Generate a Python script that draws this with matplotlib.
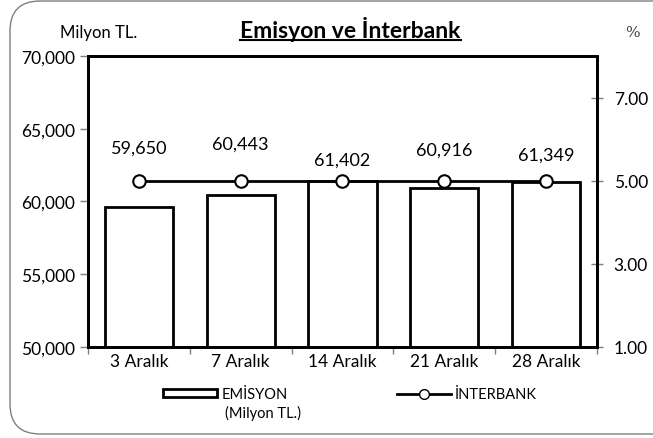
import matplotlib
matplotlib.use("Agg")
import matplotlib.pyplot as plt
from matplotlib.patches import FancyBboxPatch, Patch
from matplotlib.lines import Line2D
from matplotlib.transforms import IdentityTransform
from matplotlib.ticker import FuncFormatter, FormatStrFormatter

dates = ["3 Aralık", "7 Aralık", "14 Aralık", "21 Aralık", "28 Aralık"]
emisyon = [59650, 60443, 61402, 60916, 61349]
interbank = [5.0, 5.0, 5.0, 5.0, 5.0]
label_offsets = [37, 31, 10, 22, 14]  # points above bar tops, as placed in the original

plt.rcParams['font.family'] = ['Lato', 'DejaVu Sans']

fig = plt.figure(figsize=(6.53, 4.39), dpi=100)
# rounded frame (pixel units), right side runs off the image as in the original
border = FancyBboxPatch((10, 4), 680, 433, boxstyle="round,pad=0,rounding_size=30",
                        transform=IdentityTransform(), fill=False, edgecolor="#7f7f7f", linewidth=1.0)
fig.patches.append(border)

ax = fig.add_axes([0.1348, 0.2073, 0.7794, 0.6629])
x = list(range(len(dates)))
ax.bar(x, emisyon, width=0.67, color="white", edgecolor="black", linewidth=2, zorder=2)
ax.set_ylim(50000, 70000)
ax.set_xlim(-0.5, 4.5)
ax.set_yticks([50000, 55000, 60000, 65000, 70000])
ax.yaxis.set_major_formatter(FuncFormatter(lambda v, p: "{:,.0f}".format(v)))
ax.set_xticks(x)
ax.set_xticklabels(dates)
ax.set_xticks([i - 0.5 for i in range(6)], minor=True)
ax.tick_params(axis="x", which="major", length=0, labelsize=12.5, pad=4)
ax.tick_params(axis="x", which="minor", length=5, width=1, color="#7f7f7f")
ax.tick_params(axis="y", length=6, width=1, color="#7f7f7f", labelsize=12.5)
for s in ax.spines.values():
    s.set_linewidth(2)

for xi, v, off in zip(x, emisyon, label_offsets):
    ax.annotate("{:,}".format(v), (xi, v), xytext=(0, off), textcoords="offset points",
                ha="center", va="bottom", fontsize=13)

ax2 = ax.twinx()
ax2.plot(x, interbank, color="black", linewidth=2, marker="o", markersize=9,
         markerfacecolor="white", markeredgecolor="black", markeredgewidth=1.5, zorder=3)
ax2.set_ylim(1, 8)
ax2.set_yticks([1, 3, 5, 7])
ax2.yaxis.set_major_formatter(FormatStrFormatter("%.2f"))
ax2.tick_params(axis="y", direction="inout", length=8, width=1, color="#7f7f7f", labelsize=12.5, pad=8)
for s in ax2.spines.values():
    s.set_linewidth(2)

fig.text(0.092, 0.925, "Milyon TL.", fontsize=12, ha="left", va="center")
fig.text(0.968, 0.925, "%", fontsize=11, ha="center", va="center", family="DejaVu Serif", color="#444444")
title = fig.text(0.537, 0.932, "Emisyon ve İnterbank", fontsize=16.5, fontweight="bold", ha="center", va="center")
fig.canvas.draw()
bb = title.get_window_extent().transformed(fig.transFigure.inverted())
fig.add_artist(Line2D([bb.x0, bb.x1], [bb.y0 + 0.002, bb.y0 + 0.002], color="black", linewidth=1.5,
                      transform=fig.transFigure))

handles = [Patch(facecolor="white", edgecolor="black", linewidth=2),
           Line2D([], [], color="black", linewidth=2, marker="o", markersize=7,
                  markerfacecolor="white", markeredgecolor="black")]
fig.legend(handles, ["EMİSYON", "İNTERBANK"], loc="center", bbox_to_anchor=(0.536, 0.1),
           ncol=2, frameon=False, fontsize=10.5, handlelength=3.7, handleheight=0.4,
           columnspacing=7.5, handletextpad=0.3)
fig.text(0.345, 0.059, "(Milyon TL.)", fontsize=10.5, ha="left", va="center")

fig.savefig("out.png", dpi=100)
